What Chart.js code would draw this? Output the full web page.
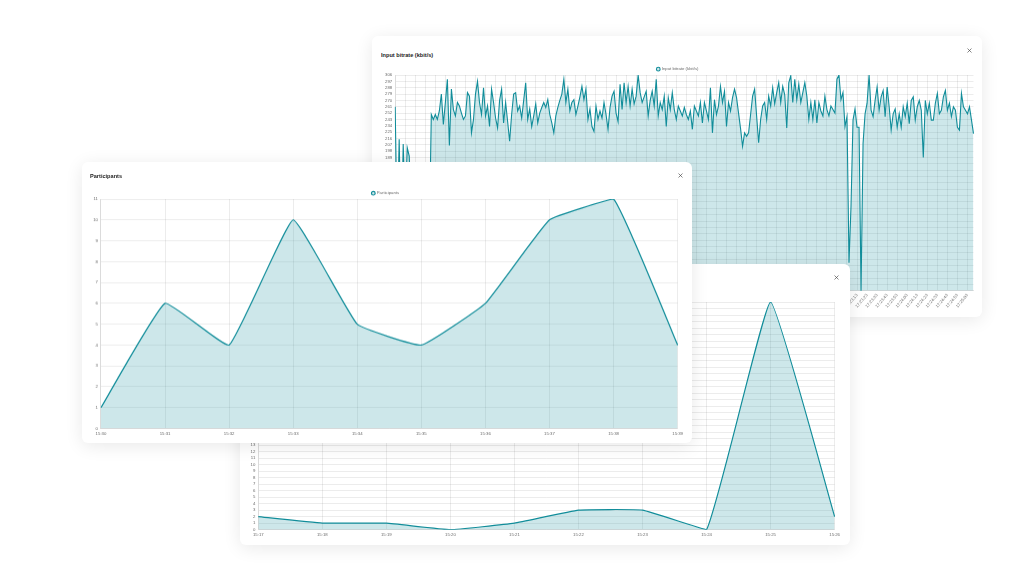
<!DOCTYPE html>
<html>
<head>
<meta charset="utf-8">
<title>Session charts</title>
<script src="https://cdn.jsdelivr.net/npm/chart.js@4.4.1/dist/chart.umd.min.js"></script>
<style>
    html, body { margin: 0; padding: 0; background: #fff; }
    body {
        width: 1023px; height: 585px; position: relative; overflow: hidden;
        font-family: "Liberation Sans", Arial, sans-serif;
    }
    .card {
        position: absolute; background: #fff; border-radius: 6px;
        box-shadow: 0 3px 18px rgba(0, 0, 0, 0.09);
        width: 610px; height: 281px;
    }
    .card-title {
        position: absolute; font-weight: 700; font-size: 11.2px; line-height: 1;
        color: #1d1d1d; white-space: nowrap;
        transform: scale(0.5); transform-origin: left top;
    }
    .close { position: absolute; width: 5px; height: 5px; }
    .chart-box { position: absolute; }
</style>
</head>
<body>

<div class="card" id="bitrateCard" style="left:372px; top:36px; z-index:1;">
    <div class="card-title" style="left:9px; top:16.2px;">Input bitrate (kbit/s)</div>
    <svg class="close" style="left:595.2px; top:12.2px;" viewBox="0 0 10 10">
        <path d="M1 1 L9 9 M9 1 L1 9" stroke="#444" stroke-width="1.3" fill="none"/>
    </svg>
    <div class="chart-box" style="left:8px; top:29px; width:598px; height:250px;">
        <canvas id="bitrateChart"></canvas>
    </div>
</div>

<div class="card" id="earlierCard" style="left:240px; top:264px; z-index:2;">
    <div class="card-title" style="left:8px; top:11.2px;">Participants</div>
    <svg class="close" style="left:593.5px; top:10.8px;" viewBox="0 0 10 10">
        <path d="M1 1 L9 9 M9 1 L1 9" stroke="#444" stroke-width="1.3" fill="none"/>
    </svg>
    <div class="chart-box" style="left:6px; top:27.5px; width:597px; height:250.8px;">
        <canvas id="earlierChart"></canvas>
    </div>
</div>

<div class="card" id="participantsCard" style="left:82px; top:162px; z-index:3;">
    <div class="card-title" style="left:8px; top:11.2px;">Participants</div>
    <svg class="close" style="left:595.5px; top:11.2px;" viewBox="0 0 10 10">
        <path d="M1 1 L9 9 M9 1 L1 9" stroke="#444" stroke-width="1.3" fill="none"/>
    </svg>
    <div class="chart-box" style="left:6px; top:27.3px; width:598px; height:251.7px;">
        <canvas id="participantsChart"></canvas>
    </div>
</div>

<script>
// Participants - current session
const participantsLabels = ['15:30', '15:31', '15:32', '15:33', '15:34', '15:35', '15:36', '15:37', '15:38', '15:39'];
const participantsValues = [1, 6, 4, 10, 5, 4, 6, 10, 11, 4];

// Participants - earlier session
const earlierLabels = ['15:17', '15:18', '15:19', '15:20', '15:21', '15:22', '15:23', '15:24', '15:25', '15:26'];
const earlierValues = [2, 1, 1, 0, 1, 3, 3, 0, 35, 2];

// Input bitrate, one sample every 2 seconds
const bitrateStart = '17:15:33';
const bitrateStepSeconds = 2;
const bitrateValues = [
    261, 80, 215, 60, 208, 120, 203, 191, 100, 150, 70, 130, 90, 160, 110, 60, 140, 80,
    250, 243, 250, 243, 255, 279, 236, 267, 300, 206,
    286, 257, 248, 267, 262, 252, 243, 248, 281, 276,
    224, 243, 279, 297, 267, 250, 288, 248, 262, 233,
    286, 267, 245, 231, 270, 286, 238, 267, 240, 212,
    250, 279, 281, 255, 262, 245, 270, 295, 243, 258,
    233, 248, 265, 238, 252, 260, 267, 260, 271, 250,
    238, 224, 248, 260, 270, 279, 300, 267, 286, 255,
    267, 271, 250, 262, 275, 290, 271, 286, 243, 258,
    233, 226, 262, 243, 255, 245, 267, 250, 229, 260,
    276, 283, 252, 240, 293, 257, 295, 267, 290, 262,
    286, 265, 276, 306, 281, 267, 275, 283, 248, 270,
    283, 262, 300, 248, 267, 257, 276, 233, 274, 257,
    281, 257, 243, 262, 255, 248, 260, 250, 243, 255,
    229, 262, 255, 248, 267, 238, 267, 255, 243, 288,
    224, 271, 250, 262, 290, 267, 283, 233, 267, 255,
    274, 286, 274, 252, 230, 205, 224, 219, 224, 250,
    276, 286, 248, 210, 243, 262, 267, 243,
    276, 262, 288, 265, 281, 295, 267, 290, 278, 231,
    295, 305, 267, 300, 271, 293, 267, 281, 295, 276,
    243, 267, 243, 271, 238, 267, 255, 248, 276, 257,
    248, 262, 257, 252, 300, 306, 271, 281, 233, 247,
    40, 120, 242, 258, 232, 232, 0, 209, 251, 266,
    306, 256, 247, 270, 289, 256, 275, 284, 247, 289,
    261, 228, 251, 258, 232, 251, 232, 261, 247, 266,
    237, 270, 275, 242, 261, 270, 256, 189, 270, 251,
    266, 242, 242, 266, 280, 251, 256, 275, 284, 256,
    266, 247, 261, 256, 232, 228, 280, 261, 256, 251,
    261, 242, 223
];

// Y axis ranges
const participantsAxis = { min: 0, max: 11, step: 1 };
const earlierAxis = { min: 0, max: 35, step: 1 };
const bitrateAxis = { min: 0, max: 306, step: 9 };

const LINE_COLOR = '#118d9a';
const FILL_COLOR = 'rgba(17, 141, 154, 0.21)';
const GRID_COLOR = 'rgba(0, 0, 0, 0.075)';
const TEXT_COLOR = '#6b6b6b';
const SMALL_FONT = { family: '"Liberation Sans", Arial, sans-serif', size: 4.3 };

function timeLabels(start, step, count) {
    const parts = start.split(':').map(Number);
    const t0 = parts[0] * 3600 + parts[1] * 60 + parts[2];
    const out = [];
    for (let i = 0; i < count; i++) {
        const t = t0 + i * step;
        out.push([Math.floor(t / 3600), Math.floor(t / 60) % 60, t % 60]
            .map(n => String(n).padStart(2, '0')).join(':'));
    }
    return out;
}

function makeChart(canvasId, labels, values, axis, opts) {
    const ctx = document.getElementById(canvasId).getContext('2d');
    return new Chart(ctx, {
        type: 'line',
        data: {
            labels: labels,
            datasets: [{
                label: opts.label,
                data: values,
                borderColor: LINE_COLOR,
                backgroundColor: FILL_COLOR,
                borderWidth: opts.lineWidth,
                tension: opts.tension,
                fill: 'origin',
                pointRadius: 0
            }]
        },
        options: {
            responsive: true,
            maintainAspectRatio: false,
            animation: false,
            layout: { padding: opts.padding },
            plugins: {
                legend: {
                    maxHeight: 10,
                    labels: {
                        usePointStyle: true,
                        pointStyle: 'circle',
                        boxWidth: 2.6,
                        boxHeight: 2.6,
                        padding: 2,
                        color: TEXT_COLOR,
                        font: SMALL_FONT
                    }
                },
                tooltip: { enabled: false }
            },
            scales: {
                x: {
                    grid: { color: GRID_COLOR, drawTicks: false },
                    border: { color: GRID_COLOR },
                    ticks: Object.assign({ color: TEXT_COLOR, font: SMALL_FONT, padding: 3 }, opts.xTicks)
                },
                y: {
                    min: axis.min,
                    max: axis.max,
                    grid: { color: GRID_COLOR, drawTicks: false },
                    border: { color: GRID_COLOR },
                    ticks: {
                        stepSize: axis.step,
                        autoSkip: false,
                        color: TEXT_COLOR,
                        font: SMALL_FONT,
                        padding: 3
                    }
                }
            }
        }
    });
}

makeChart('bitrateChart',
    timeLabels(bitrateStart, bitrateStepSeconds, bitrateValues.length),
    bitrateValues, bitrateAxis, {
        label: 'Input bitrate (kbit/s)',
        lineWidth: 1.1,
        tension: 0,
        padding: { left: 2, right: 4.5, top: 0, bottom: 4 },
        xTicks: { autoSkip: true, autoSkipPadding: 0, maxTicksLimit: 66, minRotation: 50, maxRotation: 50, padding: 2 }
    });

makeChart('earlierChart', earlierLabels, earlierValues, earlierAxis, {
    label: 'Participants',
    lineWidth: 1.2,
    tension: 0.1,
    padding: { left: 1.5, right: 5.5, top: 0, bottom: 2 },
    xTicks: { autoSkip: false, maxRotation: 0 }
});

makeChart('participantsChart', participantsLabels, participantsValues, participantsAxis, {
    label: 'Participants',
    lineWidth: 1.2,
    tension: 0.1,
    padding: { left: 2.2, right: 5, top: 0, bottom: 2 },
    xTicks: { autoSkip: false, maxRotation: 0 }
});
</script>
</body>
</html>
